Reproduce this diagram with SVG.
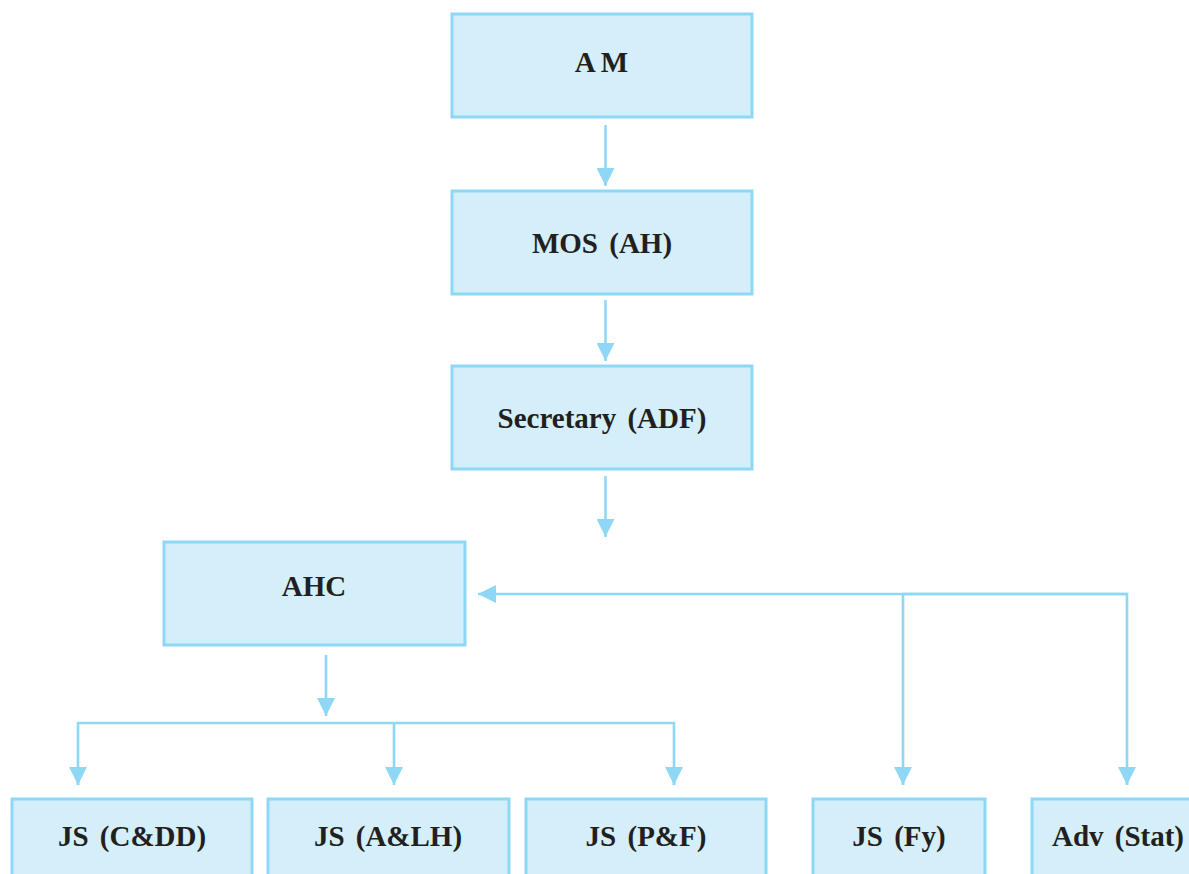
<svg xmlns="http://www.w3.org/2000/svg" width="1189" height="874" viewBox="0 0 1189 874">
<style>
.box{fill:#d4eefa;stroke:#8ed8f6;stroke-width:3}
.lbl{font-family:"Liberation Serif","Times New Roman",serif;font-weight:bold;font-size:29px;fill:#231f20;text-anchor:middle;word-spacing:4px}
.con{fill:none;stroke:#8ed8f6;stroke-width:2.6}
</style>
<defs>
<marker id="ah" markerUnits="userSpaceOnUse" markerWidth="18" markerHeight="18" viewBox="0 0 18 18" refX="18" refY="9" orient="auto">
<path d="M0,0 L18,9 L0,18 z" fill="#8ed8f6"/>
</marker>
</defs>
<rect width="1189" height="874" fill="#ffffff"/>
<g id="connectors">
<line class="con" x1="605.5" y1="125" x2="605.5" y2="186" marker-end="url(#ah)"/>
<line class="con" x1="605.5" y1="300" x2="605.5" y2="361" marker-end="url(#ah)"/>
<line class="con" x1="605.5" y1="476" x2="605.5" y2="537" marker-end="url(#ah)"/>
<line class="con" x1="326" y1="655" x2="326" y2="716" marker-end="url(#ah)"/>
<path class="con" d="M78,785 V723 H674 V785"/>
<line class="con" x1="78" y1="767" x2="78" y2="785" marker-end="url(#ah)"/>
<line class="con" x1="394" y1="723" x2="394" y2="785" marker-end="url(#ah)"/>
<line class="con" x1="674" y1="767" x2="674" y2="785" marker-end="url(#ah)"/>
<path class="con" d="M903,785 V594 H1127 V785"/>
<line class="con" x1="903" y1="767" x2="903" y2="785" marker-end="url(#ah)"/>
<line class="con" x1="1127" y1="767" x2="1127" y2="785" marker-end="url(#ah)"/>
<line class="con" x1="1127" y1="594" x2="478" y2="594" marker-end="url(#ah)"/>
</g>
<g id="node-am"><rect class="box" x="452" y="14" width="300" height="103"/><text class="lbl" x="604" y="72" letter-spacing="5">AM</text></g>
<g id="node-mos"><rect class="box" x="452" y="191" width="300" height="103"/><text class="lbl" x="602" y="253">MOS (AH)</text></g>
<g id="node-sec"><rect class="box" x="452" y="366" width="300" height="103"/><text class="lbl" x="602" y="428">Secretary (ADF)</text></g>
<g id="node-ahc"><rect class="box" x="164" y="542" width="301" height="103"/><text class="lbl" x="314" y="596">AHC</text></g>
<g id="node-jscdd"><rect class="box" x="12" y="799" width="240" height="90"/><text class="lbl" x="132" y="846">JS (C&amp;DD)</text></g>
<g id="node-jsalh"><rect class="box" x="268" y="799" width="241" height="90"/><text class="lbl" x="388" y="846">JS (A&amp;LH)</text></g>
<g id="node-jspf"><rect class="box" x="526" y="799" width="240" height="90"/><text class="lbl" x="646" y="846">JS (P&amp;F)</text></g>
<g id="node-jsfy"><rect class="box" x="813" y="799" width="172" height="90"/><text class="lbl" x="899" y="846">JS (Fy)</text></g>
<g id="node-adv"><rect class="box" x="1032" y="799" width="172" height="90"/><text class="lbl" x="1118" y="846">Adv (Stat)</text></g>
</svg>
